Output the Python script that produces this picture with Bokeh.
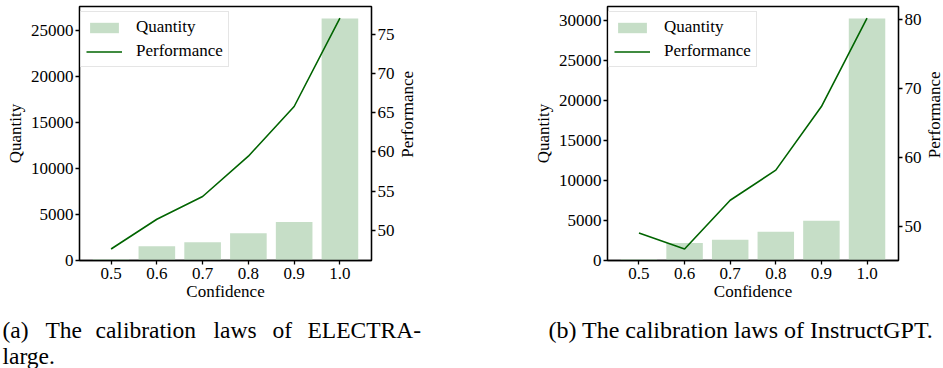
import math
from bokeh.plotting import figure
from bokeh.models import (Range1d, LinearAxis, FixedTicker, PrintfTickFormatter,
                          Legend, LegendItem)
from bokeh.layouts import row, column
from bokeh.core.properties import value
from bokeh.embed import file_html
from bokeh.resources import INLINE

# ---------------- data ----------------
confidence = [0.5, 0.6, 0.7, 0.8, 0.9, 1.0]

electra_quantity = [150, 1560, 2000, 2980, 4180, 26340]
electra_performance = [47.6, 51.4, 54.3, 59.45, 65.8, 77.1]

gpt_quantity = [200, 2170, 2580, 3580, 4960, 30200]
gpt_performance = [49.1, 46.8, 53.85, 58.2, 67.4, 80.2]

quantity_ticks_a = [0, 5000, 10000, 15000, 20000, 25000]
performance_ticks_a = [50, 55, 60, 65, 70, 75]
quantity_ticks_b = [0, 5000, 10000, 15000, 20000, 25000, 30000]
performance_ticks_b = [50, 60, 70, 80]

caption_a_line1 = ["(a)", "The", "calibration", "laws", "of", "ELECTRA-"]
caption_a_line2 = ["large."]
caption_b = ["(b) The calibration laws of InstructGPT."]

# ---------------- style ----------------
FONT = "Liberation Serif"
BAR = "#c6dec7"
LINE = "#006400"
FS = "17px"
CHART_H = 312
CAP_H = 56
MB_TOP = 6
MB_BOTTOM = 52
FRAME_H = CHART_H - MB_TOP - MB_BOTTOM


def style_axis(ax, ticks):
    ax.ticker = FixedTicker(ticks=ticks)
    ax.major_label_text_font = FONT
    ax.major_label_text_font_size = FS
    ax.major_label_text_color = "black"
    ax.axis_label_text_font = FONT
    ax.axis_label_text_font_size = FS
    ax.axis_label_text_font_style = "normal"
    ax.axis_label_text_color = "black"
    ax.axis_line_color = "black"
    ax.axis_line_width = 1.3
    ax.major_tick_line_color = "black"
    ax.major_tick_line_width = 1.3
    ax.major_tick_in = 0
    ax.major_tick_out = 4
    ax.minor_tick_line_color = None
    ax.major_label_standoff = 2
    ax.axis_label_standoff = 3


def make_chart(quantity, performance, q_ticks, p_ticks, width, mb_left, mb_right):
    x_lo = min(confidence) - 0.04
    x_hi = max(confidence) + 0.04
    x_pad = 0.05 * (x_hi - x_lo)
    p_lo, p_hi = min(performance), max(performance)
    p_pad = 0.05 * (p_hi - p_lo)

    p = figure(width=width, height=CHART_H,
               x_range=Range1d(x_lo - x_pad, x_hi + x_pad),
               y_range=Range1d(0, max(quantity) * 1.05),
               output_backend="svg", toolbar_location=None,
               min_border_left=mb_left, min_border_right=mb_right,
               min_border_top=MB_TOP, min_border_bottom=MB_BOTTOM)
    p.extra_y_ranges = {"perf": Range1d(p_lo - p_pad, p_hi + p_pad)}
    p.grid.visible = False
    p.outline_line_color = "black"
    p.outline_line_width = 1.3
    p.outline_line_alpha = 1.0
    p.background_fill_color = "white"
    p.border_fill_color = "white"

    bars = p.vbar(x=confidence, top=quantity, width=0.08,
                  fill_color=BAR, line_color=None)
    line = p.line(confidence, performance, y_range_name="perf",
                  line_color=LINE, line_width=1.6)

    style_axis(p.xaxis[0], confidence)
    p.xaxis[0].formatter = PrintfTickFormatter(format="%.1f")
    p.xaxis[0].axis_label = "Confidence"
    p.xaxis[0].major_label_standoff = 3
    p.xaxis[0].axis_label_standoff = 0

    style_axis(p.yaxis[0], q_ticks)
    p.yaxis[0].axis_label = "Quantity"

    right = LinearAxis(y_range_name="perf")
    style_axis(right, p_ticks)
    p.add_layout(right, "right")

    legend = Legend(items=[LegendItem(label="Quantity", renderers=[bars]),
                           LegendItem(label="Performance", renderers=[line])],
                    location=(1, FRAME_H - 7 - 54))
    legend.label_text_font = FONT
    legend.label_text_font_size = FS
    legend.label_text_color = "black"
    legend.label_height = 20
    legend.glyph_height = 13
    legend.glyph_width = 36
    legend.label_standoff = 14
    legend.padding = 5
    legend.spacing = 4
    legend.margin = 0
    legend.border_line_color = "#cccccc"
    legend.border_line_width = 1
    legend.background_fill_color = "white"
    legend.background_fill_alpha = 0.8
    p.add_layout(legend, "center")
    return p


def blank(width, height, flip):
    yr = Range1d(height, 0) if flip else Range1d(0, height)
    c = figure(width=width, height=height, x_range=Range1d(0, width),
               y_range=yr, x_axis_type=None, y_axis_type=None,
               output_backend="svg", toolbar_location=None,
               min_border=0, outline_line_color=None)
    c.grid.visible = False
    c.background_fill_color = "white"
    c.border_fill_color = "white"
    return c


def axis_title_strip(width, text, x_center, y_center_from_top):
    # right-hand y-axis title, reading bottom-to-top
    c = blank(width, CHART_H, flip=False)
    c.text(x=[x_center], y=[CHART_H - y_center_from_top], text=[text],
           angle=math.pi / 2,
           text_font=value(FONT), text_font_size=value(FS), text_color="black",
           text_align="center", text_baseline="middle")
    return c


def make_caption(width, lines, size):
    c = blank(width, CAP_H, flip=True)
    for words, xs, ym in lines:
        c.text(x=xs, y=[ym] * len(words), text=words,
               text_font=value(FONT), text_font_size=value(size),
               text_color="black", text_baseline="middle", text_align="left")
    return c


pa = make_chart(electra_quantity, electra_performance, quantity_ticks_a,
                performance_ticks_a, 397, 79, 24)
la = axis_title_strip(23, "Performance", 10, 132.5)
pb = make_chart(gpt_quantity, gpt_performance, quantity_ticks_b,
                performance_ticks_b, 504, 187, 23)
lb = axis_title_strip(19, "Performance", 10, 133)

ca = make_caption(475, [(caption_a_line1, [2, 45, 95, 213, 272, 307], 17),
                        (caption_a_line2, [2], 43)], "23.5px")
cb = make_caption(468, [(caption_b, [73], 17)], "24px")

layout = column(row(pa, la, pb, lb), row(ca, cb))
open("out.html", "w").write(file_html(layout, INLINE))
